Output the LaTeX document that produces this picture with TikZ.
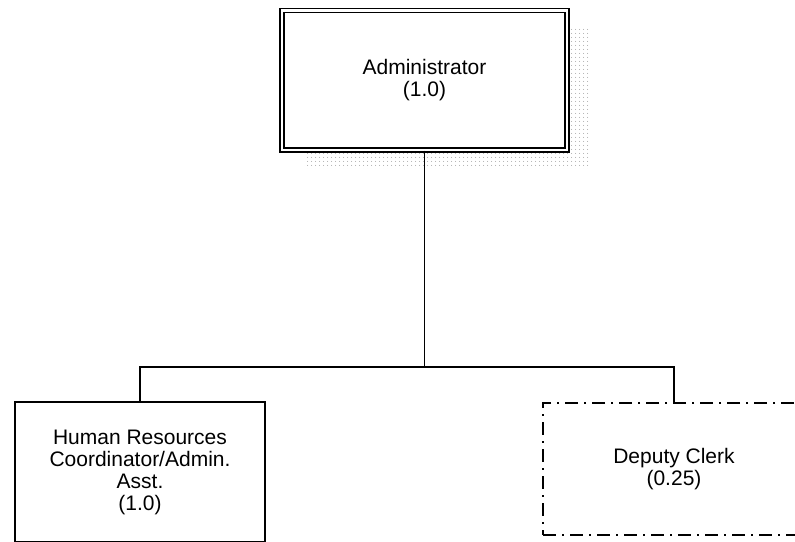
\documentclass[tikz,border=0pt]{standalone}
\usepackage{fontspec}
\setmainfont{Liberation Sans}
\usepackage{tikz}
\usetikzlibrary{patterns.meta,backgrounds}
\newcommand{\ADM}{Administrator\\(1.0)}
\newcommand{\HRC}{Human Resources\\Coordinator/Admin.\\Asst.\\(1.0)}
\newcommand{\DPC}{Deputy Clerk\\(0.25)}

\begin{document}
\begin{tikzpicture}[x=1pt,y=-1pt,line width=1.4pt,
    font=\fontsize{21}{22}\selectfont,
    box/.style={draw, rectangle, align=center, inner sep=0pt, fill=white},
    topbox/.style={box, double, double distance=2.6pt},
    dashdotbox/.style={box, dash pattern=on 13pt off 6pt on 2pt off 6pt}]
      \useasboundingbox (0,0) rectangle (795,541);

      \node (admin) at (424.5,80.25) [topbox, minimum width=285pt, minimum height=139.5pt] {\ADM};
      \node (hr)    at (140,472)     [box, minimum width=250pt, minimum height=140pt]     {\HRC};
      \node (dc)    at (674,469)     [dashdotbox, minimum width=262pt, minimum height=132pt] {\DPC};
      \coordinate (bus) at (424.5,367);

      \begin{scope}[on background layer]
        \fill[pattern={Dots[distance=4pt, radius=0.5pt]}, pattern color=gray]
          ([shift={(23,18)}]admin.north west) rectangle ([shift={(23,18)}]admin.south east);
      \end{scope}

      \draw (admin.south) -- (bus);
      \draw (hr.north) |- (bus) -| (dc.north);
\end{tikzpicture}
\end{document}
